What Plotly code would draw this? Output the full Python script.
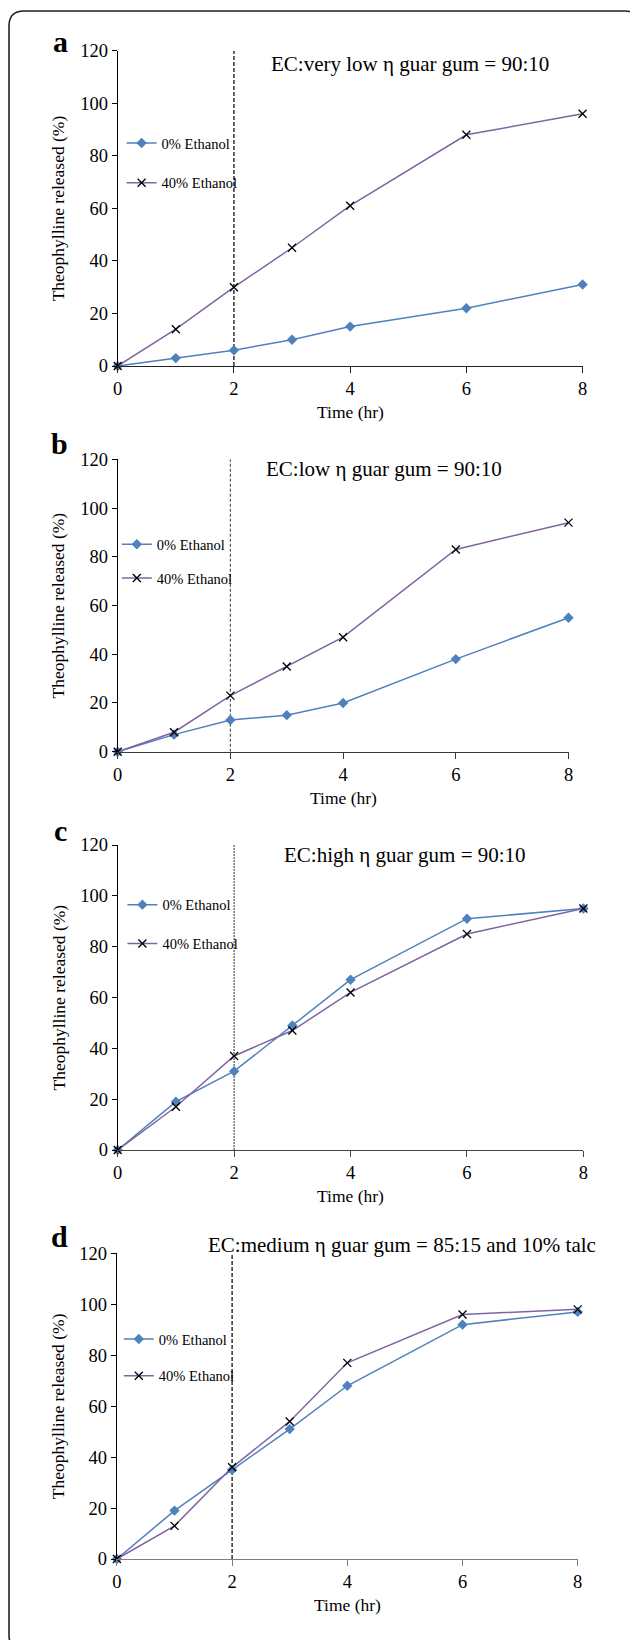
import plotly.graph_objects as go

# ---------------- data ----------------
time_hr = [0, 1, 2, 3, 4, 6, 8]
cutoff_time = 2
x_ticks = [0, 2, 4, 6, 8]
y_ticks = [0, 20, 40, 60, 80, 100, 120]
series_names = ["0% Ethanol", "40% Ethanol"]
panel_letters = ["a", "b", "c", "d"]
panel_titles = [
    "EC:very low η guar gum = 90:10",
    "EC:low η guar gum = 90:10",
    "EC:high η guar gum = 90:10",
    "EC:medium η guar gum = 85:15 and 10% talc",
]
a_ethanol0 = [0, 3, 6, 10, 15, 22, 31]
a_ethanol40 = [0, 14, 30, 45, 61, 88, 96]
b_ethanol0 = [0, 7, 13, 15, 20, 38, 55]
b_ethanol40 = [0, 8, 23, 35, 47, 83, 94]
c_ethanol0 = [0, 19, 31, 49, 67, 91, 95]
c_ethanol40 = [0, 17, 37, 47, 62, 85, 95]
d_ethanol0 = [0, 19, 35, 51, 68, 92, 97]
d_ethanol40 = [0, 13, 36, 54, 77, 96, 98]

# ---------------- layout geometry (pixels) ----------------
W, H = 630, 1640
# left, right, top, bottom of each plot area
panel_px = [
    (117.7, 582.6, 50.7, 366.0),
    (117.7, 568.5, 459.3, 751.7),
    (117.7, 583.4, 845.0, 1150.0),
    (116.9, 577.7, 1253.3, 1559.0),
]
# legend: line start x, first item y, item spacing
legend_px = [
    (132.6, 142.0, 39.0),
    (127.8, 543.3, 33.0),
    (133.4, 903.7, 38.0),
    (129.8, 1338.0, 36.0),
]
# letter (x center, y baseline), title (x center, y baseline)
letter_px = [(60, 53), (59, 455), (60, 842), (59, 1248)]
title_px = [(410, 70.5), (384, 475), (405, 861), (402, 1250.5)]
xaxis_colors = ["#222222", "#3a3a3a", "#444444", "#7f7f7f"]
cut_styles = [("#111111", "4px,2px", 1.3), ("#555555", "3px,2px", 1.2),
              ("#666666", "2px,1px", 1.4), ("#111111", "4px,2px", 1.3)]

def fx(px):
    return px / W

def fy(py):
    return 1 - py / H

series0 = [a_ethanol0, b_ethanol0, c_ethanol0, d_ethanol0]
series40 = [a_ethanol40, b_ethanol40, c_ethanol40, d_ethanol40]

BLUE = "#4F81BD"
PURPLE = "#8064A2"
SERIF = "Liberation Serif, Times New Roman, serif"

fig = go.Figure()
annotations = []
layout_axes = {}

for i in range(4):
    n = "" if i == 0 else str(i + 1)
    xa, ya = "x" + n, "y" + n
    lg = "legend" + n
    l, r, t, b = panel_px[i]

    ccol, cdash, cw = cut_styles[i]
    fig.add_trace(go.Scatter(
        x=[cutoff_time, cutoff_time], y=[y_ticks[0], y_ticks[-1]],
        mode="lines", line=dict(color=ccol, width=cw, dash=cdash),
        xaxis=xa, yaxis=ya, showlegend=False, hoverinfo="skip"))

    fig.add_trace(go.Scatter(
        x=time_hr, y=series0[i], name=series_names[0], mode="lines+markers",
        line=dict(color=BLUE, width=1.5),
        marker=dict(symbol="diamond", size=8, color=BLUE),
        xaxis=xa, yaxis=ya, legend=lg, legendgroup="g0_" + str(i),
        cliponaxis=False))
    fig.add_trace(go.Scatter(
        x=time_hr, y=series40[i], name=series_names[1], mode="lines+markers",
        line=dict(color=PURPLE, width=1.5),
        marker=dict(symbol="x-thin", size=8, color="black",
                    line=dict(width=1.3, color="black")),
        xaxis=xa, yaxis=ya, legend=lg, legendgroup="g1_" + str(i),
        cliponaxis=False))

    layout_axes["xaxis" + n] = dict(
        domain=[fx(l), fx(r)], anchor=ya, range=[0, 8],
        tickvals=x_ticks, ticks="outside", ticklen=6, tickcolor=xaxis_colors[i],
        showline=True, linecolor=xaxis_colors[i], linewidth=1.3,
        showgrid=False, zeroline=False,
        tickfont=dict(family=SERIF, size=18.5, color="black"))
    layout_axes["yaxis" + n] = dict(
        domain=[fy(b), fy(t)], anchor=xa, range=[0, 120],
        tickvals=y_ticks, ticks="outside", ticklen=5, tickcolor="black",
        showline=True, linecolor="black", linewidth=1.2,
        showgrid=False, zeroline=False,
        tickfont=dict(family=SERIF, size=18.5, color="black"))

    lx, ly, gap = legend_px[i]
    layout_axes[lg] = dict(
        x=fx(lx - 11), xanchor="left", y=fy(ly - 15), yanchor="top",
        bgcolor="rgba(0,0,0,0)", borderwidth=0,
        font=dict(family=SERIF, size=14.5, color="black"),
        tracegroupgap=gap - 21, itemwidth=30)

    annotations.append(dict(
        text="Theophylline released (%)", xref="paper", yref="paper",
        x=fx(58), y=fy((t + b) / 2), xanchor="center", yanchor="middle",
        textangle=-90, showarrow=False,
        font=dict(family=SERIF, size=17.5, color="black")))
    annotations.append(dict(
        text="Time (hr)", xref="paper", yref="paper",
        x=fx((l + r) / 2), y=fy(b + 46), xanchor="center", yanchor="middle",
        showarrow=False, font=dict(family=SERIF, size=17.5, color="black")))
    lx2, lb = letter_px[i]
    annotations.append(dict(
        text="<b>" + panel_letters[i] + "</b>", xref="paper", yref="paper",
        x=fx(lx2), y=fy(lb - 12), xanchor="center", yanchor="middle",
        showarrow=False, font=dict(family=SERIF, size=30, color="black")))
    tx, tb = title_px[i]
    annotations.append(dict(
        text=panel_titles[i], xref="paper", yref="paper",
        x=fx(tx), y=fy(tb - 6), xanchor="center", yanchor="middle",
        showarrow=False, font=dict(family=SERIF, size=21, color="black")))

# rounded border
L, R, T, B, rad = 9, 640, 11, 1650, 15
path = (f"M {fx(L + rad)},{fy(T)} L {fx(R - rad)},{fy(T)} "
        f"Q {fx(R)},{fy(T)} {fx(R)},{fy(T + rad)} L {fx(R)},{fy(B - rad)} "
        f"Q {fx(R)},{fy(B)} {fx(R - rad)},{fy(B)} L {fx(L + rad)},{fy(B)} "
        f"Q {fx(L)},{fy(B)} {fx(L)},{fy(B - rad)} L {fx(L)},{fy(T + rad)} "
        f"Q {fx(L)},{fy(T)} {fx(L + rad)},{fy(T)} Z")

fig.update_layout(
    width=W, height=H, margin=dict(l=0, r=0, t=0, b=0, autoexpand=False),
    paper_bgcolor="white", plot_bgcolor="white",
    font=dict(family=SERIF, color="black"),
    annotations=annotations,
    shapes=[dict(type="path", path=path, xref="paper", yref="paper",
                 line=dict(color="#222222", width=1.6), layer="below")],
    **layout_axes)

fig.write_html("out.html",
               config={"displayModeBar": False},
               post_script="document.body.style.margin='0px';")
